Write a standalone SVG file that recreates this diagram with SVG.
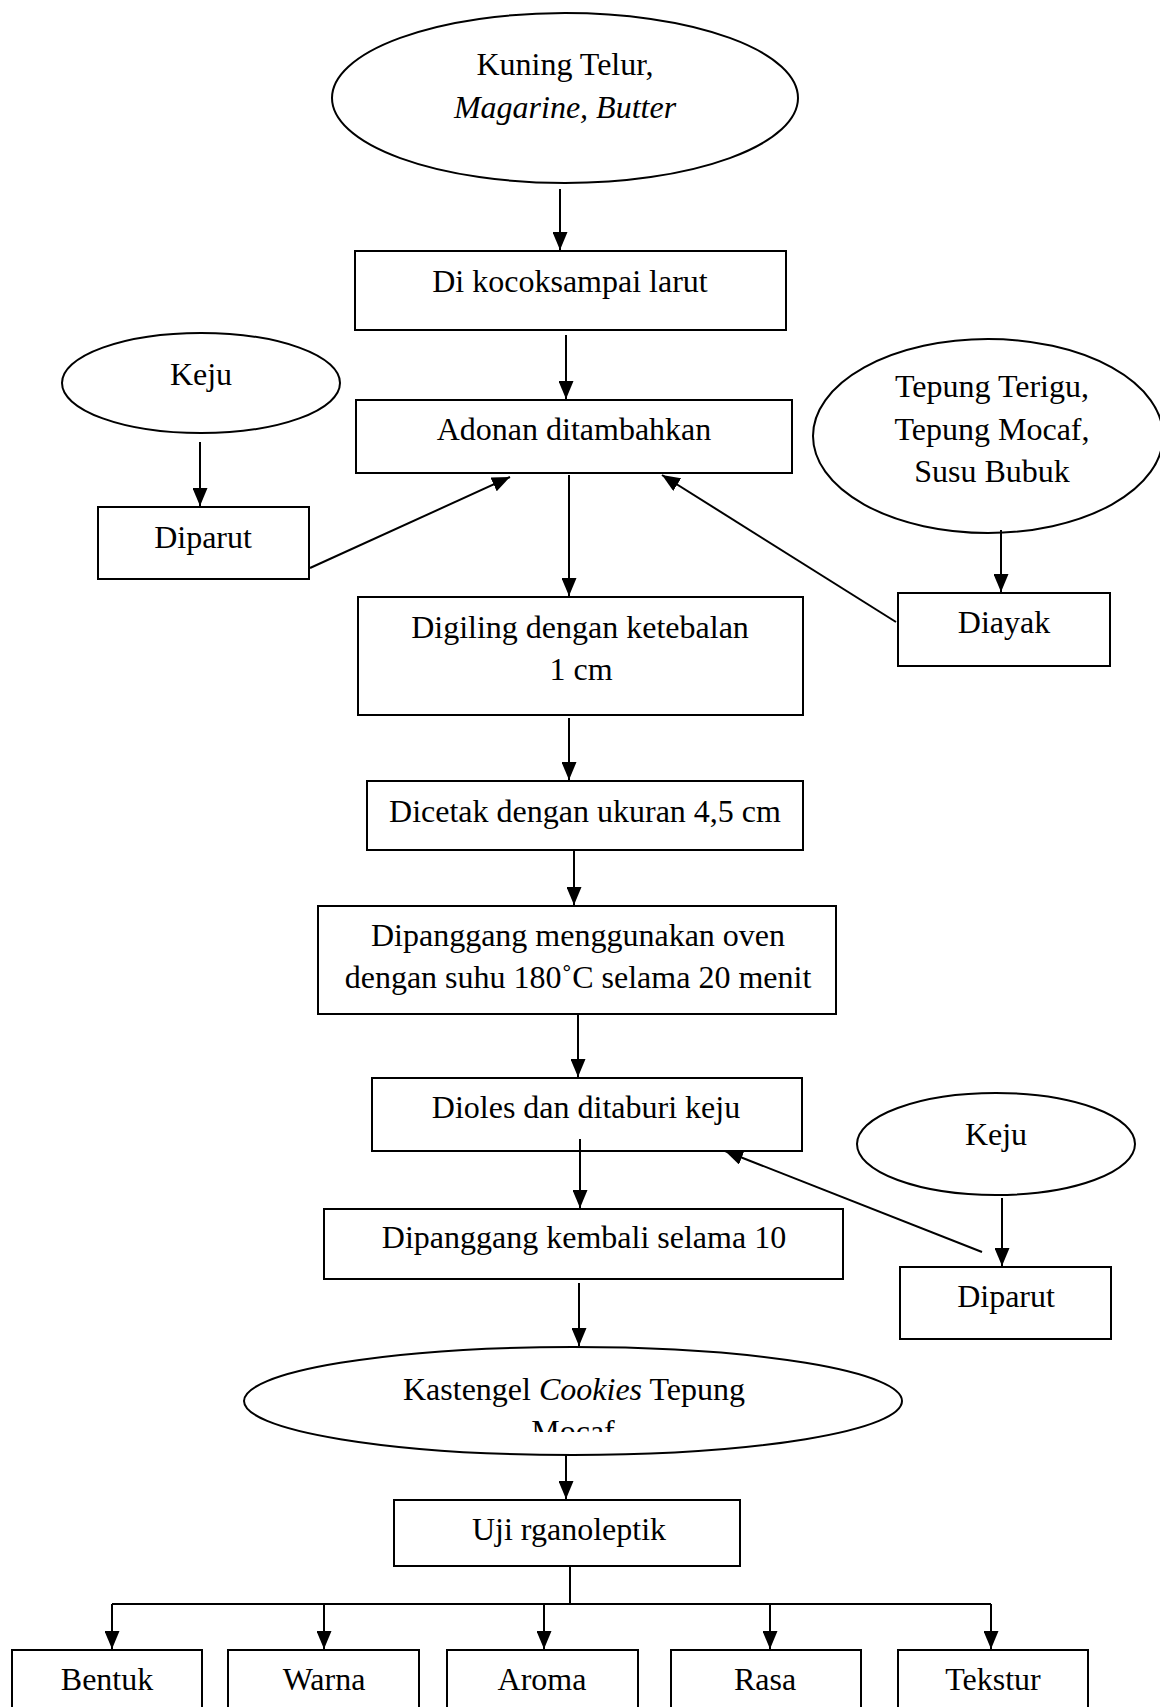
<svg xmlns="http://www.w3.org/2000/svg" width="1160" height="1707" viewBox="0 0 1160 1707">
<defs>
<marker id="ah" markerUnits="userSpaceOnUse" markerWidth="18" markerHeight="15" refX="18" refY="7.5" orient="auto">
<path d="M0,0 L18,7.5 L0,15 z" fill="#000"/>
</marker>
<clipPath id="clipMocaf"><rect x="244" y="1300" width="660" height="132"/></clipPath>
<style>
.n{fill:#fff;stroke:#000;stroke-width:2}
.t{font-family:"Liberation Serif","Times New Roman",serif;font-size:32px;fill:#000;text-anchor:middle}
.i{font-style:italic}
.c line,.c path{stroke:#000;stroke-width:2;fill:none}
.a{marker-end:url(#ah)}
</style>
</defs>
<rect width="1160" height="1707" fill="#fff"/>

<g id="n-kuning">
<ellipse class="n" cx="565" cy="98" rx="233" ry="85"/>
<text class="t" x="565" y="75">Kuning Telur,</text>
<text class="t i" x="565" y="118">Magarine, Butter</text>
</g>
<g id="n-kocok">
<rect class="n" x="355" y="251" width="431" height="79"/>
<text class="t" x="570" y="292">Di kocoksampai larut</text>
</g>
<g id="n-keju1">
<ellipse class="n" cx="201" cy="383" rx="139" ry="50"/>
<text class="t" x="201" y="385">Keju</text>
</g>
<g id="n-adonan">
<rect class="n" x="356" y="400" width="436" height="73"/>
<text class="t" x="574" y="440">Adonan ditambahkan</text>
</g>
<g id="n-tepung">
<ellipse class="n" cx="988" cy="436" rx="175" ry="97"/>
<text class="t" x="992" y="397">Tepung Terigu,</text>
<text class="t" x="992" y="440">Tepung Mocaf,</text>
<text class="t" x="992" y="482">Susu Bubuk</text>
</g>
<g id="n-diparut1">
<rect class="n" x="98" y="507" width="211" height="72"/>
<text class="t" x="203" y="548">Diparut</text>
</g>
<g id="n-diayak">
<rect class="n" x="898" y="593" width="212" height="73"/>
<text class="t" x="1004" y="633">Diayak</text>
</g>
<g id="n-digiling">
<rect class="n" x="358" y="597" width="445" height="118"/>
<text class="t" x="580" y="638">Digiling dengan ketebalan</text>
<text class="t" x="581" y="680">1 cm</text>
</g>
<g id="n-dicetak">
<rect class="n" x="367" y="781" width="436" height="69"/>
<text class="t" x="585" y="822">Dicetak dengan ukuran 4,5 cm</text>
</g>
<g id="n-dipanggang">
<rect class="n" x="318" y="906" width="518" height="108"/>
<text class="t" x="578" y="946">Dipanggang menggunakan oven</text>
<text class="t" x="578" y="988">dengan suhu 180˚C selama 20 menit</text>
</g>
<g id="n-dioles">
<rect class="n" x="372" y="1078" width="430" height="73"/>
<text class="t" x="586" y="1118">Dioles dan ditaburi keju</text>
</g>
<g id="n-keju2">
<ellipse class="n" cx="996" cy="1144" rx="139" ry="51"/>
<text class="t" x="996" y="1145">Keju</text>
</g>
<g id="n-kembali">
<rect class="n" x="324" y="1209" width="519" height="70"/>
<text class="t" x="584" y="1248">Dipanggang kembali selama 10</text>
</g>
<g id="n-diparut2">
<rect class="n" x="900" y="1267" width="211" height="72"/>
<text class="t" x="1006" y="1307">Diparut</text>
</g>
<g id="n-kastengel">
<ellipse class="n" cx="573" cy="1401" rx="329" ry="54"/>
<text class="t" x="574" y="1400">Kastengel <tspan class="i">Cookies</tspan> Tepung</text>
<text class="t" x="573" y="1442" clip-path="url(#clipMocaf)">Mocaf</text>
</g>
<g id="n-uji">
<rect class="n" x="394" y="1500" width="346" height="66"/>
<text class="t" x="569" y="1540">Uji rganoleptik</text>
</g>
<g id="n-bentuk">
<rect class="n" x="12" y="1650" width="190" height="80"/>
<text class="t" x="107" y="1690">Bentuk</text>
</g>
<g id="n-warna">
<rect class="n" x="228" y="1650" width="191" height="80"/>
<text class="t" x="324" y="1690">Warna</text>
</g>
<g id="n-aroma">
<rect class="n" x="447" y="1650" width="191" height="80"/>
<text class="t" x="542" y="1690">Aroma</text>
</g>
<g id="n-rasa">
<rect class="n" x="671" y="1650" width="190" height="80"/>
<text class="t" x="765" y="1690">Rasa</text>
</g>
<g id="n-tekstur">
<rect class="n" x="898" y="1650" width="190" height="80"/>
<text class="t" x="993" y="1690">Tekstur</text>
</g>

<g id="connectors" class="c">
<line class="a" x1="560" y1="189" x2="560" y2="250"/>
<line class="a" x1="566" y1="335" x2="566" y2="399"/>
<line class="a" x1="200" y1="442" x2="200" y2="506"/>
<line class="a" x1="310" y1="568" x2="510" y2="477"/>
<line class="a" x1="896" y1="622" x2="662" y2="475"/>
<line class="a" x1="1001" y1="530" x2="1001" y2="592"/>
<line class="a" x1="569" y1="475" x2="569" y2="596"/>
<line class="a" x1="569" y1="718" x2="569" y2="780"/>
<line class="a" x1="574" y1="850" x2="574" y2="905"/>
<line class="a" x1="578" y1="1015" x2="578" y2="1077"/>
<line class="a" x1="580" y1="1139" x2="580" y2="1208"/>
<line class="a" x1="579" y1="1283" x2="579" y2="1346"/>
<line class="a" x1="1002" y1="1198" x2="1002" y2="1266"/>
<line class="a" x1="982" y1="1252" x2="725" y2="1151"/>
<line class="a" x1="566" y1="1455" x2="566" y2="1499"/>
<line x1="570" y1="1566" x2="570" y2="1604"/>
<line x1="112" y1="1604" x2="991" y2="1604"/>
<line class="a" x1="112" y1="1604" x2="112" y2="1649"/>
<line class="a" x1="324" y1="1604" x2="324" y2="1649"/>
<line class="a" x1="544" y1="1604" x2="544" y2="1649"/>
<line class="a" x1="770" y1="1604" x2="770" y2="1649"/>
<line class="a" x1="991" y1="1604" x2="991" y2="1649"/>
</g>
</svg>
